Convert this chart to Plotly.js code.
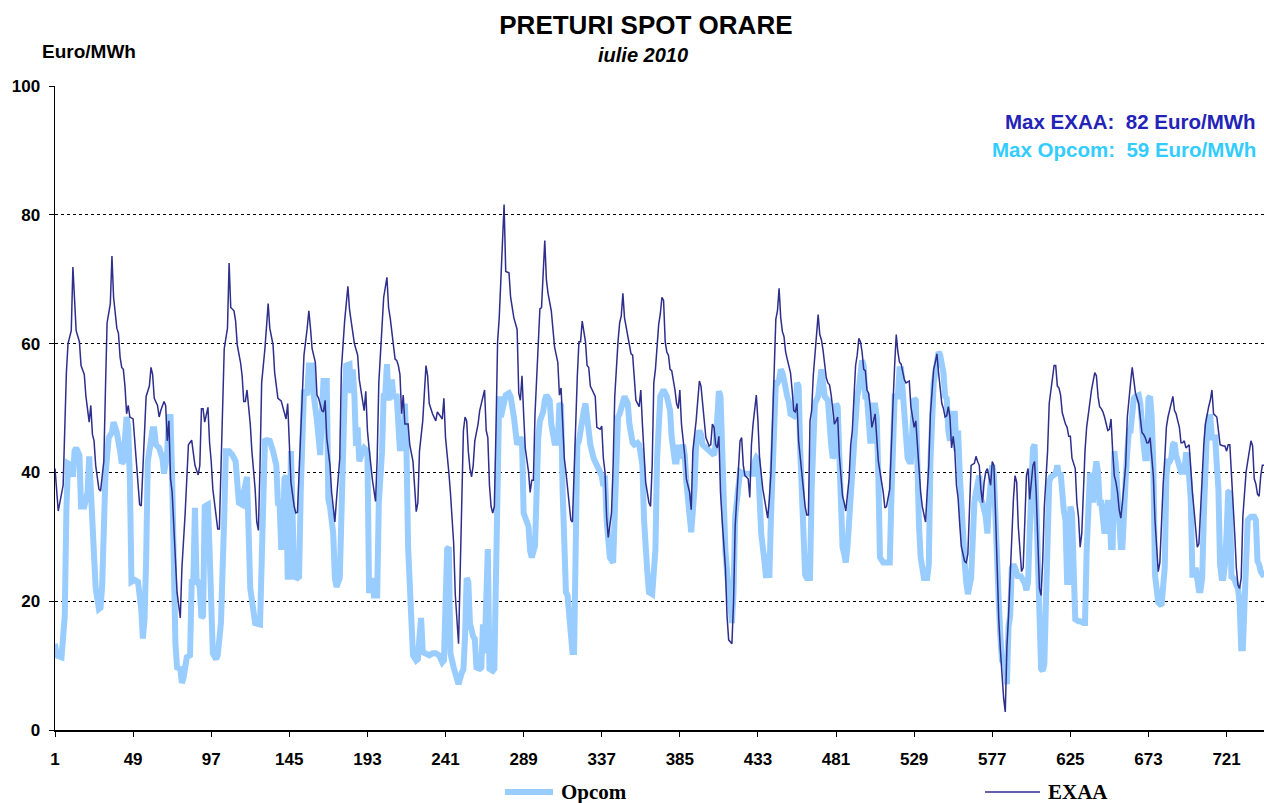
<!DOCTYPE html>
<html>
<head>
<meta charset="utf-8">
<script src="https://cdn.plot.ly/plotly-3.0.1.min.js"></script>
<style>html,body{margin:0;padding:0;background:#fff}#chart{width:1264px;height:803px}</style>
</head>
<body>
<div id="chart"></div>
<script>
// Hour of month (1..744) and price (Euro/MWh)
const exaaHour = [
1,3,6,8,9,11,12,13,14,16,17,19,20,22,23,24,25,26,28,29,
31,32,33,35,36,37,39,40,41,42,43,44,45,46,47,49,50,52,53,54,
56,57,59,60,61,62,64,65,66,68,69,70,71,72,73,75,76,78,79,81,
83,85,86,87,89,90,91,92,93,95,96,97,98,100,101,102,103,104,105,107,
108,109,111,112,113,115,116,117,118,119,121,122,123,124,125,126,127,128,130,131,
132,133,135,136,138,140,141,143,144,145,146,148,149,150,151,153,154,156,157,158,
159,161,162,163,165,166,167,168,170,171,173,174,176,177,178,179,181,182,183,184,
185,187,188,190,191,192,193,194,196,198,199,200,202,203,205,206,207,208,210,211,
212,213,214,215,216,218,219,221,222,223,224,225,227,228,229,230,231,233,235,236,
238,239,240,241,243,244,246,247,249,250,251,252,253,254,255,256,257,258,259,261,
262,263,265,266,267,268,269,270,271,272,273,274,275,277,278,280,281,283,285,286,
287,288,289,290,292,293,294,295,296,298,299,300,302,303,304,306,307,308,310,311,
312,313,314,315,317,318,319,320,322,323,324,325,327,328,329,330,332,333,334,336,
337,338,339,340,341,343,344,345,347,348,349,350,351,353,354,355,356,357,358,360,
361,362,363,364,366,367,368,369,370,371,372,373,374,375,376,377,378,379,380,382,
383,384,385,386,387,388,389,391,392,393,395,396,397,398,400,401,403,404,405,406,
407,408,409,410,411,413,414,415,417,418,419,421,422,423,424,425,427,428,429,430,
431,432,433,434,436,438,439,440,441,442,443,444,445,446,447,448,449,450,451,453,
454,455,456,457,458,459,461,462,463,464,465,466,467,468,469,470,471,472,473,474,
475,476,477,478,480,481,482,483,484,485,486,487,489,490,491,492,493,494,495,496,
497,498,499,500,501,502,503,504,505,506,507,508,510,511,512,514,515,516,517,518,
519,520,521,522,523,524,526,527,528,529,530,531,532,533,534,536,537,538,539,540,
541,542,543,544,545,546,547,548,549,550,551,552,553,554,555,556,557,558,560,561,
562,563,564,566,567,568,569,570,571,572,573,574,575,576,577,578,579,580,581,582,
583,584,585,586,587,588,589,590,591,592,593,594,595,596,597,598,599,600,602,603,
604,605,606,607,608,609,611,612,613,614,615,616,617,618,619,620,621,622,623,624,
625,626,628,629,630,631,632,633,634,635,636,637,638,640,641,642,643,644,645,646,
647,648,649,650,651,652,653,654,655,656,657,658,659,660,661,662,663,664,665,667,
668,669,670,671,672,673,674,675,676,677,678,679,680,681,682,683,684,685,686,688,
689,690,691,692,693,694,695,696,698,699,700,701,702,703,704,705,706,707,708,709,
710,711,712,713,714,715,716,717,719,720,721,722,723,724,725,726,727,728,729,730,
731,732,733,734,735,736,737,738,739,740,741,742,743,744];
const exaaPrice = [
40.6,34,38,55.5,60,62,71.9,66.2,62,60.3,56.6,55.2,51.8,47.8,50.4,45.9,44.9,41.1,37.4,37.1,
41.7,52.8,63.2,66.2,73.6,67.2,62.4,61.6,57.9,56.3,56,53.4,49.1,50.4,48.6,48.3,44.9,38.5,35,34.8,
44.9,51.8,53.4,56.3,55.2,51.5,50.4,48.6,49.6,51,50.4,44.9,48,39,36.9,27.8,21.4,17.4,25.2,33.7,
44.3,45,43.3,41.1,39.6,41.1,49.9,49.9,47.8,50.1,44.6,41.7,37.4,33.1,31.2,31.2,40,51.8,59.2,62.4,
72.5,65.6,65.1,63.5,59.8,57.1,55,51,51,52.8,47.5,43.3,40,37.4,32.3,31,41.1,53.9,59.2,62.4,
66.2,62.4,59.8,55.5,51.5,51.1,50.2,48.3,50.7,43.3,38.5,34.7,33.7,33.8,40.1,53.9,58.2,62.4,65.1,62.4,
59.2,57.1,52,51.5,49.6,49.4,51.2,45.4,41.1,36.9,32.3,35.8,42.2,56,59.8,63.5,68.9,65.3,63.5,61.3,
60,58.2,54.4,51.2,49.6,52.6,46.5,43.8,39,35.5,42.2,53.9,63.8,67.2,70.3,65.6,64,61.9,57.6,57.4,
56.6,55.2,49.1,52,47.5,47.5,44.3,41.7,36.9,33.9,35.3,43.3,48,52.3,56.6,55,50.7,49.1,48,49.4,
48.6,48.3,51.5,45.4,40.1,36.9,29,21,13.4,25.2,40.1,46.5,48.6,48,43.3,40.6,39.3,41.1,44.9,47.5,
49.6,50.7,52.8,46.5,45.4,38,34.7,33.7,34.7,46.5,60.3,64,70.4,81.6,71.2,71,67.2,64,62.2,52.3,
51.2,55,49.1,43.8,40.1,36.9,38.8,38.8,49.1,59.8,65.4,65.6,76,69.9,67.8,65.1,62.4,59.5,57.1,52,
53.1,46.5,42.2,40.1,35.3,32.6,32.3,41.1,55,60.3,60.3,63.5,60.3,56.6,56.3,53.4,52.3,51.8,47,46.7,
47.2,42.2,40.1,33.1,29.9,33.7,41.1,51.8,60.3,63.2,64.3,67.8,64,61.4,60.3,58.4,58.2,54.7,51.2,50.2,
52.8,47.5,43.3,38.5,35.3,34.7,41.1,53.9,56,60.3,63,64.6,67.2,66.7,60.3,58.7,58.2,56,55.8,52.8,
50.7,49.9,52.8,47.5,45.4,42.7,39,36.9,34.2,43.3,48,50.7,54.2,53.4,48,45.4,44.1,44.3,47.5,47,
44.3,43.8,45.6,36.9,32.6,25.2,17.7,14,13.4,19.8,31.6,41.1,44.9,45.4,41.1,39.5,39,36.1,44.3,47.5,
49.4,52,48,42.2,37.4,34.7,32.9,35.8,40,48,58,63.8,65.1,68.6,64,61.9,61.1,58.7,57.6,55.5,
52.8,49.6,49.4,50.7,44.9,42.2,36.9,34.7,33.4,33.4,48,49.6,55,58.2,61.4,64.5,61.4,60.6,59,56.6,
54.7,53.9,53.6,52,47.5,48,48.6,42.7,39,36.3,35.3,34,39,44.3,46.5,51.8,56.6,58.2,60.8,60.3,
58.7,56,55.8,52.8,52.3,50.2,47,48,49.1,45.4,41.7,40.1,36.9,34.5,34.7,37.4,45.4,50.7,56.6,61.4,
58.7,57.1,56.8,55.8,54.4,53.9,54.2,50.2,48.6,47,48,43.8,39.5,36.9,34.7,32.3,36.9,41.1,49.1,53.4,
56,57.1,58.4,55.5,52.8,50.7,49.9,48.6,48.8,50.2,48.6,43.8,45.6,43.3,38,36,32,28.5,26.2,26,
27.3,35.8,41.1,41.4,42.5,41.7,41.1,37.4,35.3,38.5,40.1,40.6,39.5,38,41.7,41.1,33.7,25.2,17.2,12.4,
8.1,4.9,2.8,12.9,17.7,24.1,29.4,35.8,39.5,38.5,31.6,27.3,24.6,25.2,33.1,39.5,40.6,35.8,41.1,41.7,
36.9,27.8,22,20.9,26.2,34.7,43.3,50.7,52.8,55,56.6,56.6,53.4,53.1,52,49.3,48.3,47.5,47,45.6,
45.6,42.2,40.6,35.3,33.1,28.4,30.5,38.5,43.3,47,49.1,51.5,52.8,55.5,55,51.8,50.2,49.9,49.4,48.6,
47.5,46.5,46.7,48.3,43.3,39.5,38.5,36.9,34.2,32.9,35.3,38,41.1,48.6,51.8,53.9,56.3,53.9,52.3,50.7,
48,46.2,45.9,45.4,44.6,44.6,45.4,42.2,39.5,32.6,28.4,24.6,26,32.5,38,42,47,48.6,49.6,51.8,
49.6,49.1,48,47,44.6,44.6,44.9,43.8,44.3,40.1,36.9,34.2,31.6,28.4,28.9,34.7,38,44.3,47.5,49.1,
50.2,51.2,52.8,49.1,48.8,48.6,46.5,44.3,44.1,44.1,43.3,44.3,44.3,40.1,34.7,30.5,25.2,22.5,22,23.6,
33.1,36.9,40.1,41.7,43.3,44.9,44.1,39,38.2,36.6,36.3,39.5,41.1,41.1];

const opcomHour = [
1,2,5,7,8,9,11,12,13,14,16,17,19,21,22,23,24,25,26,28,
29,30,31,32,34,36,37,39,41,42,43,45,46,47,48,50,52,54,55,56,
57,58,60,61,62,63,65,67,68,70,71,72,73,74,75,76,78,79,80,82,
84,85,86,87,88,89,90,91,92,93,95,96,97,98,100,101,103,104,105,106,
108,110,112,114,116,117,119,121,122,123,124,127,128,129,130,131,133,135,137,138,
139,140,141,142,143,144,145,146,147,148,150,151,152,153,154,156,157,159,160,162,
164,165,166,168,169,170,172,173,174,176,177,178,179,180,182,183,184,185,186,187,
188,190,191,193,194,195,196,197,199,200,202,203,204,205,206,208,209,211,212,213,
214,215,216,217,218,219,220,221,223,224,225,226,227,229,231,233,235,237,238,239,
240,242,243,244,246,248,249,251,252,253,254,255,256,258,259,260,262,263,264,265,
266,267,268,270,271,272,273,274,275,277,278,280,281,283,284,285,287,288,289,291,
292,293,294,296,297,298,299,301,302,303,305,306,308,310,311,312,313,314,315,316,
318,319,320,321,322,323,324,326,327,329,330,332,333,335,337,338,339,340,341,342,
344,345,346,347,348,350,351,353,354,356,357,359,360,362,363,365,366,368,369,370,
371,372,373,375,377,379,380,382,383,384,385,387,388,389,391,392,394,395,397,398,
399,401,403,404,406,407,408,409,410,411,412,413,415,416,417,418,419,421,422,424,
426,428,430,431,432,433,434,435,437,438,439,440,441,443,444,445,446,447,448,449,
450,451,452,453,455,456,457,458,459,460,461,462,463,465,466,467,468,470,471,472,
473,474,476,477,478,479,480,481,482,483,484,485,486,487,488,489,490,491,493,494,
495,496,497,498,499,500,501,502,503,504,505,506,507,508,510,512,514,515,516,517,
519,520,521,522,523,524,525,526,527,528,529,530,531,532,533,534,535,537,538,539,
540,541,543,544,545,547,548,549,550,551,552,554,555,556,557,558,559,560,561,562,
564,565,566,567,568,569,570,571,573,574,575,576,577,578,579,580,581,582,583,585,
586,587,588,589,590,591,592,593,594,595,597,598,599,600,601,602,603,604,605,606,
607,608,609,610,611,612,613,614,616,617,618,619,620,621,622,623,624,625,626,627,
628,630,631,633,634,635,636,637,638,639,640,641,642,643,644,645,646,647,648,649,
650,651,652,653,655,656,657,658,659,660,661,662,663,664,665,667,668,669,670,671,
672,673,674,675,676,677,678,679,681,682,683,684,685,686,687,688,689,690,691,692,
693,695,696,697,698,699,700,701,702,703,704,705,706,707,708,709,710,711,712,714,
715,716,717,718,719,720,721,722,723,724,725,726,727,728,729,730,731,732,733,734,
735,736,738,739,740,741,742,744];
const opcomPrice = [
13.4,11.6,11.3,17.7,34.2,41.4,41.1,39.3,43.3,43.8,42.7,34.7,34.7,36.9,42.5,37.4,29.4,23,22,18.8,
19,22.5,30.5,39.5,45.4,46.2,47.8,46.2,43.3,41.4,41.7,48.6,47,39,23,23.3,23,18.8,14.2,17.2,
26.2,41.7,45,46.7,46.7,44.3,43.8,42.2,39.8,43.3,48.6,48.6,39,17.2,13.4,9.7,9.5,7.3,8.1,11.3,
11.6,23,23,34.5,23.3,23,22,17.4,17.7,34.7,35,27.8,16.1,11.9,11,11.6,16.7,22.5,33.1,43.3,
43.3,42.7,41.7,35.3,35,36.9,39.3,22,20,18.8,16.6,16.4,27.8,35.8,44.9,45,44.9,43.3,41.1,35.3,
35.3,28.4,28.4,39,39.5,23.8,23.8,43.3,31.6,23.8,23.6,23.8,36.9,48,52.8,52,56.6,56.6,52,48,
42.7,49.1,54.2,54.2,35.8,34.7,30.5,23.6,22.2,23.6,35.8,43.8,51.8,56.6,56.8,52.3,56,52,44.1,47,
41.7,43.3,43.8,43.3,21.7,21.7,23.6,20.9,20.9,35.3,43.3,52,52.3,56.8,51.2,54.4,51.8,51.8,47,43.3,
47,43.3,50.7,43.8,28.4,23.6,16.4,11.6,10.8,11,14.5,17.4,12.1,11.9,11.6,11.9,11.9,11.6,10.8,10.5,
10.8,28.1,28.4,11.9,9.7,7.6,7.1,8.9,9.4,14.5,23.6,23,16.6,14.5,14.2,9.7,9.5,9.7,16.4,11.9,
19.9,28.1,9.5,9.2,9.5,27.8,42.2,51.8,48.6,51.8,52,52.3,51.8,48.6,45.9,44.3,45.4,44.9,33.7,32.6,
31.6,27.8,26.8,28.6,38,45.4,48,49.4,51.2,52,51.2,47.5,44.6,44.6,50.7,50.4,36.9,27.8,21.4,20.9,
12.9,12.1,12.1,30.5,44.3,44.9,47,49.6,50.7,45.9,44.3,42.2,41.7,40.3,39.5,37.9,39.5,32.6,27.8,26.8,
26,34.2,41.1,48.6,49.1,50.7,51.8,50.7,47.5,44.6,44.3,44.6,44.3,41.1,32.6,24.6,21.4,21.1,25.2,28,
42,50.7,51.8,52.8,51.8,49.6,45.4,41.7,41.7,44.3,42.2,44.3,42.7,38.5,32.6,30.7,37.4,44.3,46.5,45.9,
44.3,43.8,43.5,43.3,42.7,44.3,50.7,52.6,51.8,43.3,35.8,27.8,21.4,19.8,16.6,21.4,33.1,39.5,40.1,39.8,
39.8,39.8,39.8,41.7,42.3,42,33.1,30.5,26.2,23.6,27.3,23.6,33.1,47,53.9,53.9,54.4,56,55.5,54.4,
52.3,51.8,51,49.1,48.8,49.6,53.9,53.4,43.3,36.3,28.4,24.1,23.6,23.6,37.4,43.3,50.7,51.8,53.9,56,
53.9,51.8,51.2,46.5,44.3,42.2,42.7,50.7,50.2,42.7,31.6,28.4,27.3,26,28.4,32.6,35.8,42.2,47.5,51.8,
53,55.5,57.4,56.6,51.8,51.8,46.5,44.9,44.9,50.4,50.4,48.6,39.5,26.8,26,26,26,35.8,44.3,51.8,
51.8,56,56,51.8,51.2,46.5,42.2,41.7,41.7,47,51.5,51.2,39,31.6,26.8,25.7,23.6,23.6,25.7,41.7,
50.7,53.9,57.1,58.7,58.2,55.5,51.8,51.5,46.5,44.9,49.1,49.1,43.3,46.5,40,34,32.1,26.2,23,21.1,
23.6,31.6,35.3,36.9,38,39.5,35.8,35.3,33.1,30.5,35.3,38.5,41.1,39.5,30.5,25.2,19.8,14.5,10.8,10.2,
7.1,16.1,17.7,25.2,25.7,25.2,24.6,23.6,24.1,23.6,22.8,21.7,23,30.5,38.5,43.8,44.3,34.7,25.2,11.3,
9.5,9.2,10.2,19.8,30.5,38.5,39.3,39.5,39.8,41.1,39.5,40,36,34,32.6,23,23,34.7,33.7,24.1,
17.2,16.9,16.9,16.6,16.6,27.8,35.8,39.5,39.5,35.3,39.5,41.7,40.1,35.3,35.3,32.6,30.5,32.6,35.3,35.3,
28.4,28.4,43.3,41.1,30.5,28.4,28.4,35.8,39,43.3,46.5,46.5,50.7,51.5,51.8,52,50.7,46.5,44.3,42.2,
42.2,51.5,51.8,48.6,41.1,24.1,21.4,19.8,19.3,23,25.2,39.5,41.7,41.7,42.2,44.3,44.6,42.7,41.7,41.1,
40.1,40.1,42.7,42.7,40.1,35.8,24.1,24.1,25.2,22.5,21.7,21.7,23.6,33.1,41.7,47,48.6,48.6,45.4,45.4,
41.1,37.4,25.7,23.6,23.6,25.7,30.5,36.9,37.1,23.8,23.6,23.3,22.5,22,19.8,12.7,12.7,19.8,24.1,32.6,
32.9,33.1,33.1,32.6,26.2,25.7,24.6,23.8];

const xTickVals = [1,49,97,145,193,241,289,337,385,433,481,529,577,625,673,721];
const yTickVals = [0,20,40,60,80,100];
const seriesNames = ['Opcom','EXAA'];
const maxExaa = 82, maxOpcom = 59;

const exaaColor = '#2e2e8c';
const opcomColor = '#99ccff';
const sans = 'Arial, "Liberation Sans", sans-serif';
const serif = '"Times New Roman", "Liberation Serif", serif';

const traces = [
  {x: opcomHour, y: opcomPrice, name: seriesNames[0], type: 'scatter', mode: 'lines',
   line: {color: opcomColor, width: 6}, showlegend: false, hoverinfo: 'x+y'},
  {x: exaaHour, y: exaaPrice, name: seriesNames[1], type: 'scatter', mode: 'lines',
   line: {color: exaaColor, width: 1.5}, showlegend: false, hoverinfo: 'x+y'}
];

// pixel helpers for paper coordinates (plot area: x 55..1264, y 86..730)
const px = v => (v - 55) / 1209;
const py = v => (730 - v) / 644;

const layout = {
  width: 1264, height: 803,
  margin: {l: 55, r: 0, t: 86, b: 73},
  paper_bgcolor: '#ffffff', plot_bgcolor: '#ffffff',
  title: {text: '<b>PRETURI SPOT ORARE</b>', x: 0.511, xref: 'container', y: 1 - 25/803, yref: 'container',
          xanchor: 'center', yanchor: 'middle', font: {family: sans, size: 26, color: '#000'}},
  xaxis: {range: [1, 744], tickvals: xTickVals, ticktext: xTickVals.map(v => '<b>' + v + '</b>'),
          showgrid: false, zeroline: false, showline: true, linecolor: '#000', linewidth: 1.5,
          ticks: 'outside', ticklen: 5, tickcolor: '#000', ticklabelstandoff: 8,
          tickfont: {family: sans, size: 17, color: '#000'}},
  yaxis: {range: [0, 100], tickvals: yTickVals, ticktext: yTickVals.map(v => '<b>' + v + '</b>'),
          showgrid: true, gridcolor: '#000', griddash: 'dot', gridwidth: 1,
          zeroline: false, showline: true, linecolor: '#000', linewidth: 1.5,
          ticks: 'outside', ticklen: 5, tickcolor: '#000', ticklabelstandoff: 5,
          tickfont: {family: sans, size: 17, color: '#000'}},
  shapes: [
    {type: 'line', xref: 'paper', yref: 'paper', x0: px(505), x1: px(553), y0: py(792), y1: py(792),
     line: {color: opcomColor, width: 6}},
    {type: 'line', xref: 'paper', yref: 'paper', x0: px(985), x1: px(1040), y0: py(792), y1: py(792),
     line: {color: exaaColor, width: 1.5}}
  ],
  annotations: [
    {text: '<b><i>iulie 2010</i></b>', xref: 'paper', yref: 'paper', x: px(643), y: py(55),
     xanchor: 'center', yanchor: 'middle', showarrow: false, font: {family: sans, size: 20, color: '#000'}},
    {text: '<b>Euro/MWh</b>', xref: 'paper', yref: 'paper', x: px(40), y: py(52),
     xanchor: 'left', yanchor: 'middle', showarrow: false, font: {family: sans, size: 19, color: '#000'}},
    {text: '<b>Max EXAA:  ' + maxExaa + ' Euro/MWh</b>', xref: 'paper', yref: 'paper', x: px(1258), y: py(121),
     xanchor: 'right', yanchor: 'middle', showarrow: false, font: {family: sans, size: 20.5, color: '#2323b8'}},
    {text: '<b>Max Opcom:  ' + maxOpcom + ' Euro/MWh</b>', xref: 'paper', yref: 'paper', x: px(1258), y: py(149),
     xanchor: 'right', yanchor: 'middle', showarrow: false, font: {family: sans, size: 20.5, color: '#33ccff'}},
    {text: '<b>' + seriesNames[0] + '</b>', xref: 'paper', yref: 'paper', x: px(559), y: py(792),
     xanchor: 'left', yanchor: 'middle', showarrow: false, font: {family: serif, size: 21, color: '#000'}},
    {text: '<b>' + seriesNames[1] + '</b>', xref: 'paper', yref: 'paper', x: px(1046), y: py(792),
     xanchor: 'left', yanchor: 'middle', showarrow: false, font: {family: serif, size: 21, color: '#000'}}
  ]
};

if (exaaHour.length !== exaaPrice.length || opcomHour.length !== opcomPrice.length) {
  console.error('length mismatch', exaaHour.length, exaaPrice.length, opcomHour.length, opcomPrice.length);
}

Plotly.newPlot('chart', traces, layout, {displayModeBar: false, staticPlot: true});
</script>
</body>
</html>
